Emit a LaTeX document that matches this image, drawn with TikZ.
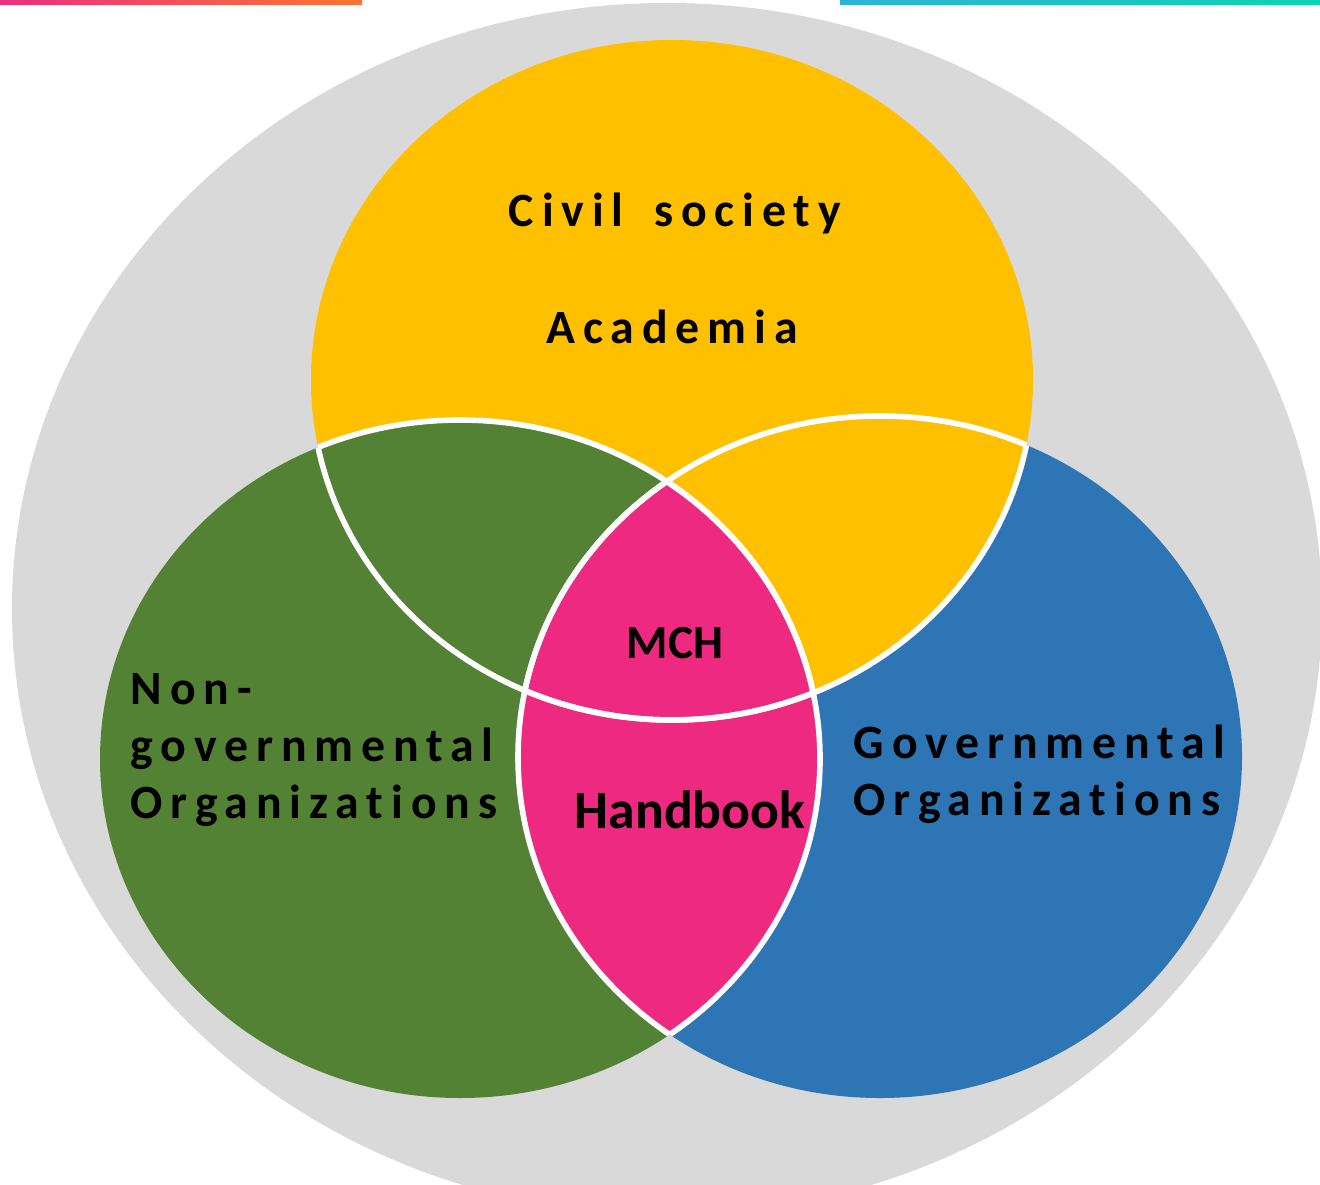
\documentclass[tikz,border=0pt]{standalone}
\usepackage{fontspec}
\setmainfont[Ligatures=NoCommon]{Carlito}
\newfontfamily\widefont[LetterSpace=16.5,Ligatures=NoCommon]{Carlito}
\usepackage{xcolor}
\usepackage{tikz}
\usetikzlibrary{positioning}
\definecolor{vgray}{HTML}{D9D9D9}
\definecolor{vyellow}{HTML}{FFC000}
\definecolor{vgreen}{HTML}{548235}
\definecolor{vblue}{HTML}{2E75B6}
\definecolor{vpink}{HTML}{EE2A80}
\definecolor{barpink}{HTML}{EC2F7F}
\definecolor{barorange}{HTML}{FE7430}
\definecolor{barcyan}{HTML}{2CB4D6}
\definecolor{barteal}{HTML}{0CD4B0}
\def\yellowell{(6.72,-3.80) ellipse [x radius=3.61, y radius=3.40]}
\def\greenell{(4.60,-7.59) ellipse [x radius=3.60, y radius=3.39]}
\def\blueell{(8.80,-7.57) ellipse [x radius=3.62, y radius=3.41]}
\tikzset{
  vedge/.style={draw=white,line width=1.6pt},
  vlabel/.style={font=\widefont\bfseries\fontsize{13.6}{16.3}\selectfont,text=black,align=left,inner sep=0pt},
  vcore/.style={font=\bfseries\fontsize{13.5}{15}\selectfont,text=black,inner sep=0pt}
}
\begin{document}
\begin{tikzpicture}
  \useasboundingbox (0,0) rectangle (13.2,-11.84);
  \clip (0,0) rectangle (13.2,-11.84);
  % backdrop and the three sets
  \fill[vgray] (6.67,-6.09) ellipse [x radius=6.55, y radius=6.06];
  \fill[vblue] \blueell;
  \fill[vyellow] \yellowell;
  \fill[vgreen] \greenell;
  \begin{scope}
    \clip \greenell;
    \fill[vpink] \blueell;
  \end{scope}
  % white edges only where sets overlap
  \begin{scope}
    \clip \greenell;
    \draw[vedge] \yellowell;
    \draw[vedge] \blueell;
  \end{scope}
  \begin{scope}
    \clip \blueell;
    \draw[vedge] \yellowell;
    \draw[vedge] \greenell;
  \end{scope}
  \begin{scope}
    \clip \yellowell;
    \draw[vedge] \greenell;
    \draw[vedge] \blueell;
  \end{scope}
  % top bars
  \shade[left color=barpink,right color=barorange] (0,0) rectangle (3.62,-0.05);
  \shade[left color=barcyan,right color=barteal] (8.40,0) rectangle (13.2,-0.05);
  % labels
  \node[vlabel] (civil) at (6.75,-2.13) {Civil\hspace{0.25em} society};
  \node[vlabel] (acad) at (6.72,-3.27) {Academia};
  \node[vlabel,anchor=west] (ngo) at (1.30,-7.50) {Non-\\governmental\\Organizations};
  \node[vlabel,anchor=west] (gov) at (8.53,-7.74) {Governmental\\Organizations};
  \node[vcore] (mch) at (6.75,-6.43) {MCH};
  \node[vcore,font=\bfseries\fontsize{15.3}{18}\selectfont] (hbook) at (6.90,-8.10) {Handbook};
\end{tikzpicture}
\end{document}
